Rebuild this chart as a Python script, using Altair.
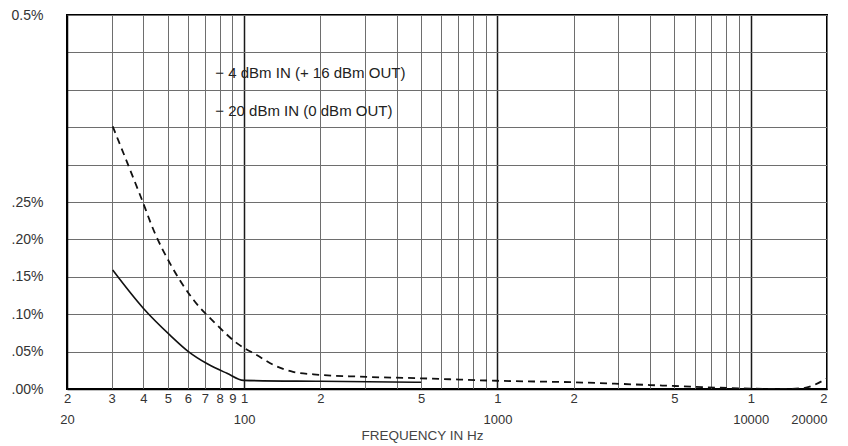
import altair as alt
import pandas as pd

# ---- data ----
dash_freq = [30.3, 39.1, 44.5, 51, 63.2, 76.9, 93.9, 112.6, 131, 156, 188, 287, 498, 998, 2000, 4000, 5000, 7600, 10000, 13500, 16000, 20000]
dash_pct = [0.351, 0.257, 0.208, 0.168, 0.119, 0.088, 0.061, 0.045, 0.032, 0.023, 0.0196, 0.0165, 0.0143, 0.011, 0.009, 0.0053, 0.004, 0.0017, 0.0005, 0.0, 0.001, 0.0143]

solid_freq = [30.3, 40, 51, 60.3, 71.3, 85.6, 99.5, 200, 500]
solid_pct = [0.159, 0.108, 0.072, 0.050, 0.034, 0.021, 0.0115, 0.0103, 0.009]

note_text = ["\u2212 4 dBm IN (+ 16 dBm OUT)", "\u2212 20 dBm IN (0 dBm OUT)"]
note_freq = [77, 77]
note_pct = [0.4225, 0.372]

x_ticks = [20, 30, 40, 50, 60, 70, 80, 90,
           100, 200, 300, 400, 500, 600, 700, 800, 900,
           1000, 2000, 3000, 4000, 5000, 6000, 7000, 8000, 9000,
           10000, 20000]
x_labels = {20: ["2", "20"], 30: "3", 40: "4", 50: "5", 60: "6", 70: "7", 80: "8", 90: "9",
            100: ["1", "100"], 200: "2", 500: "5",
            1000: ["1", "1000"], 2000: "2", 5000: "5",
            10000: ["1", "10000"], 20000: ["2", "20000"]}
y_ticks = [0, 0.05, 0.10, 0.15, 0.20, 0.25, 0.30, 0.35, 0.40, 0.45, 0.50]

# ---- tables ----
dash_df = pd.DataFrame({"freq": dash_freq, "pct": dash_pct})
solid_df = pd.DataFrame({"freq": solid_freq, "pct": solid_pct})
note_df = pd.DataFrame({"freq": note_freq, "pct": note_pct, "text": note_text})


def lab(v):
    if isinstance(v, list):
        return "[" + ",".join("'" + s + "'" for s in v) + "]"
    return "'" + v + "'"


x_expr = ""
for k, v in x_labels.items():
    x_expr += f"datum.value == {k} ? {lab(v)} : "
x_expr += "''"

y_expr = ("datum.value > 0.49 ? '0.5%' : "
          "(datum.value < 0.26 ? replace(format(datum.value, '.2f'), '0.', '.') + '%' : '')")

FONT = "Liberation Sans"
major = "datum.value == 100 || datum.value == 1000 || datum.value == 10000"
GRID = "#6e6e6e"

x_enc = alt.X(
    "freq:Q",
    scale=alt.Scale(type="log", domain=[20, 20000], nice=False),
    axis=alt.Axis(
        values=x_ticks,
        labelExpr=x_expr,
        ticks=False,
        labelPadding=3,
        labelFontSize=13,
        labelFont=FONT,
        labelColor="#333",
        labelLineHeight=21,
        labelBaseline="top",
        labelAlign={"condition": {"test": "datum.value >= 20000", "value": "right"}, "value": "center"},
        labelOverlap=False,
        labelFlush=False,
        gridColor={"condition": {"test": major, "value": "#1a1a1a"}, "value": GRID},
        gridWidth={"condition": {"test": major, "value": 1.5}, "value": 1},
        title="FREQUENCY IN Hz",
        titleFont=FONT,
        titleFontSize=13.5,
        titleFontWeight="normal",
        titleColor="#444",
        titleX=355,
        titleY=46,
        titleBaseline="middle",
        titleAnchor="middle",
    ),
)

y_enc = alt.Y(
    "pct:Q",
    scale=alt.Scale(domain=[0, 0.5], nice=False, zero=True),
    axis=alt.Axis(
        values=y_ticks,
        labelExpr=y_expr,
        ticks=False,
        labelAlign="left",
        labelPadding=56,
        labelFontSize=14,
        labelFont=FONT,
        labelColor="#333",
        labelOverlap=False,
        labelFlush=False,
        gridColor=GRID,
        gridWidth=1,
        title=None,
    ),
)

dashed = alt.Chart(dash_df).mark_line(
    color="#111", strokeWidth=1.8, strokeDash=[7, 5], interpolate="monotone", clip=True
).encode(x=x_enc, y=y_enc)

solid = alt.Chart(solid_df).mark_line(
    color="#111", strokeWidth=1.6, interpolate="monotone", clip=True
).encode(x=x_enc, y=y_enc)

notes = alt.Chart(note_df).mark_text(
    align="left", baseline="middle", font=FONT, fontSize=15, color="#222"
).encode(x=x_enc, y=y_enc, text="text:N")

chart = (
    alt.layer(dashed, solid, notes)
    .properties(
        width=760,
        height=374,
        autosize=alt.AutoSizeParams(type="none"),
        padding={"left": 59, "top": 7, "right": 13, "bottom": 54},
        background="white",
    )
    .configure_view(stroke="black", strokeWidth=2)
    .configure_axis(domainColor="black", domainWidth=1.5)
)

chart.save("out.html", embed_options={"renderer": "svg", "actions": False})
